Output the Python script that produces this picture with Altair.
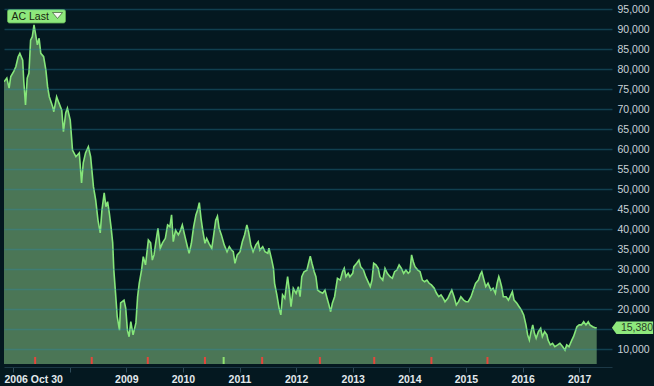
import altair as alt
import pandas as pd

# decimal years and closing prices
years = [
    2006.84, 2006.89, 2006.93, 2006.96, 2007.01, 2007.05, 2007.09, 2007.12, 2007.17, 2007.19,
    2007.22, 2007.25, 2007.28, 2007.31, 2007.34, 2007.37, 2007.40, 2007.43, 2007.46, 2007.49,
    2007.54, 2007.58, 2007.61, 2007.64, 2007.70, 2007.72, 2007.77, 2007.81, 2007.86, 2007.89,
    2007.93, 2007.96, 2008.01, 2008.05, 2008.11, 2008.17, 2008.21, 2008.24, 2008.28, 2008.33,
    2008.37, 2008.42, 2008.46, 2008.50, 2008.54, 2008.57, 2008.61, 2008.64, 2008.67, 2008.70,
    2008.73, 2008.76, 2008.78, 2008.81, 2008.84, 2008.88, 2008.90, 2008.96, 2008.99, 2009.02,
    2009.05, 2009.08, 2009.12, 2009.17, 2009.20, 2009.23, 2009.27, 2009.30, 2009.34, 2009.39,
    2009.43, 2009.46, 2009.49, 2009.52, 2009.56, 2009.60, 2009.64, 2009.69, 2009.73, 2009.77,
    2009.80, 2009.83, 2009.87, 2009.92, 2009.96, 2009.99, 2010.03, 2010.08, 2010.11, 2010.15,
    2010.19, 2010.23, 2010.26, 2010.29, 2010.32, 2010.35, 2010.39, 2010.42, 2010.46, 2010.51,
    2010.54, 2010.58, 2010.61, 2010.64, 2010.68, 2010.73, 2010.78, 2010.82, 2010.86, 2010.89,
    2010.92, 2010.96, 2011.01, 2011.05, 2011.09, 2011.13, 2011.16, 2011.20, 2011.24, 2011.29,
    2011.33, 2011.36, 2011.41, 2011.45, 2011.50, 2011.52, 2011.57, 2011.60, 2011.62, 2011.66,
    2011.70, 2011.73, 2011.76, 2011.80, 2011.85, 2011.88, 2011.91, 2011.95, 2012.00, 2012.04,
    2012.07, 2012.10, 2012.14, 2012.19, 2012.22, 2012.25, 2012.28, 2012.32, 2012.35, 2012.38,
    2012.42, 2012.47, 2012.51, 2012.54, 2012.58, 2012.61, 2012.64, 2012.68, 2012.73, 2012.78,
    2012.82, 2012.85, 2012.88, 2012.92, 2012.95, 2013.00, 2013.02, 2013.07, 2013.11, 2013.14,
    2013.19, 2013.23, 2013.27, 2013.31, 2013.34, 2013.37, 2013.41, 2013.45, 2013.48, 2013.53,
    2013.57, 2013.61, 2013.66, 2013.70, 2013.74, 2013.78, 2013.82, 2013.86, 2013.90, 2013.94,
    2013.98, 2014.01, 2014.04, 2014.07, 2014.10, 2014.15, 2014.19, 2014.23, 2014.27, 2014.31,
    2014.35, 2014.39, 2014.44, 2014.48, 2014.52, 2014.56, 2014.60, 2014.63, 2014.68, 2014.72,
    2014.75, 2014.79, 2014.83, 2014.87, 2014.91, 2014.96, 2015.00, 2015.04, 2015.09, 2015.13,
    2015.17, 2015.22, 2015.25, 2015.28, 2015.31, 2015.35, 2015.39, 2015.44, 2015.48, 2015.52,
    2015.55, 2015.58, 2015.60, 2015.63, 2015.66, 2015.71, 2015.75, 2015.78, 2015.82, 2015.85,
    2015.90, 2015.94, 2015.98, 2016.02, 2016.06, 2016.09, 2016.12, 2016.15, 2016.18, 2016.21,
    2016.24, 2016.28, 2016.32, 2016.35, 2016.39, 2016.43, 2016.45, 2016.49, 2016.53, 2016.57,
    2016.62, 2016.66, 2016.71, 2016.75, 2016.78, 2016.82, 2016.87, 2016.90, 2016.93, 2016.96,
    2017.00, 2017.04, 2017.08, 2017.12, 2017.16, 2017.19, 2017.24, 2017.28, 2017.31,
]
prices = [
    76900, 77800, 75300, 78200, 79400, 80700, 83150, 84000, 82300, 76900,
    71100, 77800, 79000, 87300, 88150, 91100, 88600, 86100, 87750, 84000,
    83150, 79800, 75650, 73150, 70650, 69400, 73150, 71600, 69800, 64400,
    69100, 70300, 67300, 59800, 58150, 59100, 51600, 56600, 59100, 60650,
    58150, 50650, 47300, 42300, 39100, 44800, 49100, 45650, 46900, 44100,
    40650, 36600, 29800, 24100, 18150, 14800, 21600, 22300, 20300, 14800,
    13150, 16900, 13600, 16600, 23150, 26600, 29800, 33150, 31100, 37300,
    36600, 32300, 33600, 36600, 40250, 35250, 36600, 37750, 41100, 40650,
    43600, 36900, 39800, 38600, 39800, 41100, 38600, 35650, 34000, 36500,
    40650, 43600, 44800, 46650, 42750, 39800, 36500, 37750, 36500, 35250,
    38150, 42300, 43300, 40250, 38600, 36100, 34400, 35650, 34800, 34400,
    31500, 33600, 34400, 36900, 38600, 41100, 39400, 36100, 34400, 36100,
    36900, 34800, 35650, 34400, 34000, 35250, 32300, 30250, 26500, 23600,
    20250, 18600, 23600, 22750, 28150, 24800, 20650, 25250, 24000, 25650,
    23150, 28150, 29400, 29800, 31500, 33300, 31500, 29400, 28150, 24800,
    24400, 24000, 24800, 23150, 21100, 19400, 21500, 23150, 27750, 27300,
    29400, 30250, 28150, 29000, 28150, 29000, 30650, 31500, 32300, 30650,
    29800, 28150, 26900, 25650, 27300, 31500, 31100, 30250, 28150, 27300,
    30250, 29000, 28150, 27750, 29400, 29800, 31100, 30250, 29000, 29800,
    29000, 29400, 33600, 31900, 30650, 29800, 29400, 27300, 26900, 27300,
    26500, 26100, 25250, 24000, 23150, 23600, 22750, 21900, 22750, 24000,
    24800, 23150, 21100, 21900, 23150, 22300, 21900, 21900, 23150, 24800,
    26500, 27300, 28600, 29400, 27750, 25650, 26500, 24800, 25250, 24000,
    26500, 28150, 27300, 25650, 23150, 23150, 22300, 23150, 24400, 22300,
    21500, 20650, 19800, 18600, 16100, 13600, 12300, 14400, 16100, 14000,
    12750, 14400, 15250, 13150, 14400, 13600, 12300, 11100, 11500, 10650,
    11100, 11500, 10650, 9800, 11100, 10650, 12300, 13150, 14400, 15650,
    16100, 16100, 16900, 16100, 16900, 16100, 15650, 15400, 15380,
]

dividend_years = [2007.39, 2008.39, 2009.38, 2010.39, 2011.40, 2012.42, 2013.38, 2014.39, 2015.38]
split_years = [2010.72]

x_tick_values = [2006.84, 2007, 2008, 2009, 2010, 2011, 2012, 2013, 2014, 2015, 2016, 2017]
y_tick_values = [10000, 15000, 20000, 25000, 30000, 35000, 40000, 45000, 50000,
                 55000, 60000, 65000, 70000, 75000, 80000, 85000, 90000, 95000]

series_name = "AC Last"
start_label = "2006 Oct 30"

df = pd.DataFrame({"t": years, "v": prices})
events = pd.DataFrame({
    "t": dividend_years + split_years,
    "kind": ["div"] * len(dividend_years) + ["split"] * len(split_years),
})
last = pd.DataFrame({"v": [prices[-1]], "label": [f"{prices[-1]:,}"]})

FONT = "Liberation Sans"
x_scale = alt.Scale(domain=[2006.84, 2017.58], nice=False, zero=False)
y_scale = alt.Scale(domain=[6325, 97325], nice=False, zero=False)

x_axis = alt.Axis(
    title=None, values=x_tick_values, grid=False,
    labelExpr=f"datum.value < 2006.9 ? '{start_label}' : (datum.value < 2008.5 ? '' : toString(datum.value))",
    labelAlign={"condition": {"test": "datum.value < 2006.9", "value": "left"}, "value": "center"},
    tickOpacity={"condition": {"test": "datum.value < 2006.9", "value": 0}, "value": 1},
    labelFont=FONT, labelFontSize=10.5, labelFontWeight="bold", labelColor="#e2e8ec",
    labelPadding=2, tickSize=5, tickColor="#2f4c5a", domainColor="#1c3846",
    offset=3, labelOverlap=False,
)
y_axis = alt.Axis(
    title=None, orient="right", values=y_tick_values,
    labelExpr="datum.value == 15000 ? '' : format(datum.value, ',')",
    grid=True, gridColor="#2a8cab", gridOpacity=0.35, gridWidth=1.3,
    ticks=False, domain=False, labelPadding=5,
    labelFont=FONT, labelFontSize=10.5, labelColor="#c9d2d8", zindex=1,
)

X = alt.X("t:Q", scale=x_scale, axis=x_axis)
Y = alt.Y("v:Q", scale=y_scale, axis=y_axis)

area = alt.Chart(df).mark_area(color="#4b7656", clip=True).encode(x=X, y=Y)
line = alt.Chart(df).mark_line(color="#86e67a", strokeWidth=1.6, clip=True).encode(x=X, y=Y)

markers = alt.Chart(events).mark_rule(strokeWidth=2).encode(
    x=X,
    y=alt.value(357),
    y2=alt.value(364),
    color=alt.Color("kind:N", scale=alt.Scale(domain=["div", "split"], range=["#e4473b", "#8fe36f"]), legend=None),
)

tag = alt.Chart(last).mark_point(
    shape="M-1,0L-0.78,-0.3L1,-0.3L1,0.3L-0.78,0.3Z",
    filled=True, fill="#8ee87c", opacity=1, size=1700, strokeWidth=0,
).encode(x=alt.value(628.5), y=Y)
tag_text = alt.Chart(last).mark_text(
    font=FONT, fontSize=10.5, color="#2a3d28", align="center", baseline="middle",
).encode(x=alt.value(633), y=Y, text="label:N")

badge = alt.Chart(pd.DataFrame({"name": [series_name]})).mark_rect(
    color="#8ee87c", cornerRadius=2, stroke="#5fae52", strokeWidth=0.8,
).encode(x=alt.value(3.5), x2=alt.value(61.5), y=alt.value(9.5), y2=alt.value(23))
badge_text = alt.Chart(pd.DataFrame({"name": [series_name]})).mark_text(
    font=FONT, fontSize=10.5, color="#17260f", align="left", baseline="middle",
).encode(x=alt.value(7.5), y=alt.value(16.5), text="name:N")
badge_arrow = alt.Chart(pd.DataFrame({"name": [series_name]})).mark_point(
    shape="M-1,-0.6L1,-0.6L0,0.6Z", filled=True, fill="#f4f7f2", opacity=1,
    stroke="#3a5a30", strokeWidth=0.7, size=100,
).encode(x=alt.value(53.5), y=alt.value(15.5))

chart = alt.layer(
    area, line, markers, tag, tag_text, badge, badge_text, badge_arrow
).properties(
    width=608, height=364,
    autosize=alt.AutoSizeParams(type="none"),
    padding={"left": 4, "top": 0, "right": 42, "bottom": 22},
    background="#041820",
).configure_view(strokeWidth=0)

chart.save("out.html", embed_options={"renderer": "svg", "actions": False})
